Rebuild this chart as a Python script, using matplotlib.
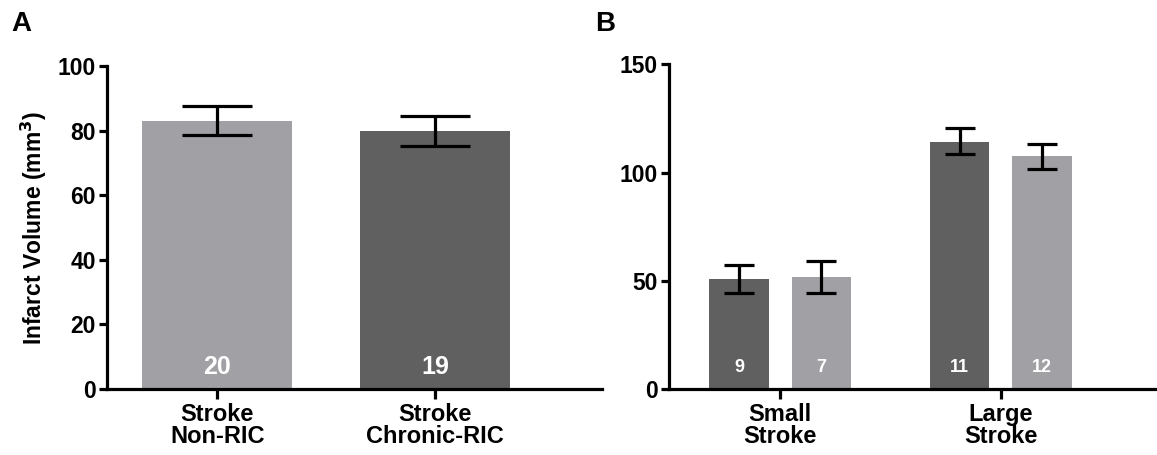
import numpy as np
import matplotlib
matplotlib.use("Agg")
import matplotlib.pyplot as plt

plt.rcParams['font.family'] = ['Liberation Sans', 'DejaVu Sans']
plt.rcParams['font.weight'] = 'bold'

# Panel A data
a_labels = ['Stroke\nNon-RIC', 'Stroke\nChronic-RIC']
a_means = [83.0, 79.8]
a_err_lo = [4.4, 4.5]
a_err_hi = [4.6, 4.8]
a_n = [20, 19]

# Panel B data
b_groups = ['Small\nStroke', 'Large\nStroke']
b_dark_means = [50.8, 114.4]
b_dark_lo = [6.5, 5.8]
b_dark_hi = [6.6, 6.3]
b_light_means = [51.7, 107.5]
b_light_lo = [7.4, 5.7]
b_light_hi = [7.6, 5.8]
b_dark_n = [9, 11]
b_light_n = [7, 12]

LIGHT = '#a1a0a5'
DARK = '#606060'
LW = 2.3

fig = plt.figure(figsize=(11.57, 4.55), dpi=100)
axA = fig.add_axes([0.0925, 0.145, 0.428, 0.710])
axB = fig.add_axes([0.578, 0.1444, 0.4205, 0.714])


def style(ax):
    for s in ['top', 'right']:
        ax.spines[s].set_visible(False)
    for s in ['left', 'bottom']:
        ax.spines[s].set_linewidth(LW)
    ax.tick_params(width=LW, length=6, labelsize=16.5, pad=2)
    ax.tick_params(axis='x', length=7, pad=3, labelsize=17)
    for lab in ax.get_xticklabels() + ax.get_yticklabels():
        lab.set_fontweight('bold')


# Panel A
xa = np.arange(len(a_labels))
axA.bar(xa, a_means, width=0.69, color=[LIGHT, DARK], zorder=1)
axA.errorbar(xa, a_means, yerr=[a_err_lo, a_err_hi], fmt='none', ecolor='black',
             elinewidth=LW, capsize=25, capthick=LW, zorder=2)
for x, n in zip(xa, a_n):
    axA.annotate(str(n), (x, 0), xytext=(0, 16), textcoords='offset points',
                 ha='center', va='center', color='white', fontsize=18, fontweight='bold')
axA.set_xlim(-0.505, 1.766)
axA.set_ylim(0, 100)
axA.set_yticks([0, 20, 40, 60, 80, 100])
axA.set_xticks(xa)
axA.set_xticklabels(a_labels, linespacing=0.95)
axA.set_ylabel('Infarct Volume (mm$^\\mathbf{3}$)', fontsize=16.5, fontweight='bold', labelpad=6)
style(axA)

# Panel B
xb = np.arange(len(b_groups))
off = 0.187
bw = 0.27
axB.bar(xb - off, b_dark_means, width=bw, color=DARK, zorder=1)
axB.bar(xb + off, b_light_means, width=bw, color=LIGHT, zorder=1)
axB.errorbar(xb - off, b_dark_means, yerr=[b_dark_lo, b_dark_hi], fmt='none', ecolor='black',
             elinewidth=LW, capsize=10.5, capthick=LW, zorder=2)
axB.errorbar(xb + off, b_light_means, yerr=[b_light_lo, b_light_hi], fmt='none', ecolor='black',
             elinewidth=LW, capsize=10.5, capthick=LW, zorder=2)
for x, n in zip(xb - off, b_dark_n):
    axB.annotate(str(n), (x, 0), xytext=(0, 16), textcoords='offset points',
                 ha='center', va='center', color='white', fontsize=13, fontweight='bold')
for x, n in zip(xb + off, b_light_n):
    axB.annotate(str(n), (x, 0), xytext=(0, 16), textcoords='offset points',
                 ha='center', va='center', color='white', fontsize=13, fontweight='bold')
axB.set_xlim(-0.505, 1.70)
axB.set_ylim(0, 150)
axB.set_yticks([0, 50, 100, 150])
axB.set_xticks(xb)
axB.set_xticklabels(b_groups, linespacing=0.95)
style(axB)

fig.text(21 / 1157, 1 - 24 / 455, 'A', fontsize=20, fontweight='bold', ha='center', va='center')
fig.text(605 / 1157, 1 - 24 / 455, 'B', fontsize=20, fontweight='bold', ha='center', va='center')

fig.savefig('out.png', dpi=100)
